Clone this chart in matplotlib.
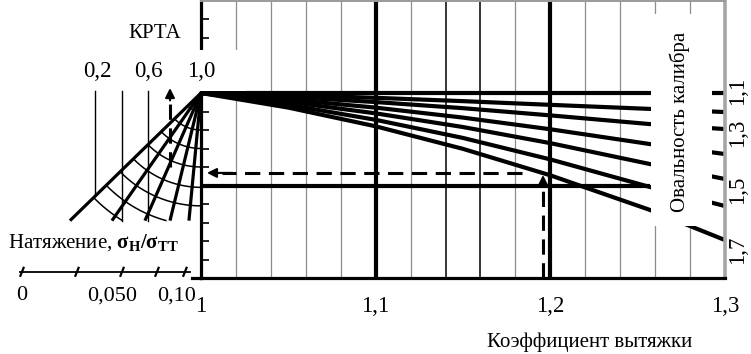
import numpy as np
import matplotlib
matplotlib.use('Agg')
import matplotlib.pyplot as plt
from matplotlib.patches import Rectangle

plt.rcParams['font.family'] = ['Liberation Serif', 'DejaVu Serif']
plt.rcParams['mathtext.fontset'] = 'custom'
plt.rcParams['mathtext.rm'] = 'Liberation Serif'
plt.rcParams['mathtext.bf'] = 'Liberation Serif:bold'
plt.rcParams['mathtext.it'] = 'Liberation Serif:italic'

# ---------------- data ----------------
# main panel: draw coefficient vs. level, one curve per caliber ovality
draw_x = [1.0, 1.05, 1.1, 1.15, 1.2, 1.257, 1.3]
curve_1 = [10, 10, 10, 10, 10, 10, 10]
curve_2 = [10, 9.89, 9.74, 9.56, 9.36, 9.14, 8.97]
curve_3 = [10, 9.79, 9.51, 9.18, 8.79, 8.32, 8.05]
curve_4 = [10, 9.65, 9.21, 8.67, 8.04, 7.24, 6.70]
curve_5 = [10, 9.52, 8.90, 8.16, 7.29, 6.16, 5.35]
curve_6 = [10, 9.36, 8.55, 7.57, 6.41, 4.92, 3.89]
curve_7 = [10, 9.21, 8.20, 6.98, 5.55, 3.68, 2.05]
curves = [curve_1, curve_2, curve_3, curve_4, curve_5, curve_6, curve_7]

level_line_y = 5.0
level_line_x = [1.0, 1.257]

grid_x = [1.02, 1.04, 1.06, 1.08, 1.10, 1.12, 1.14, 1.16, 1.18, 1.20,
          1.22, 1.24, 1.26, 1.28]
x_tick_vals = [1.0, 1.1, 1.2, 1.3]
x_tick_labels = ['1', '1,1', '1,2', '1,3']

ovality_labels = ['1,1', '1,3', '1,5', '1,7']
ovality_label_y = [10.1, 7.84, 4.76, 1.51]

# worked example (dashed path)
example_draw = 1.1958
example_level = 5.57
example_krta = 0.766

# left panel: KRTA scale and tension fan
krta_tick_vals = [0.2, 0.6, 1.0]
krta_tick_labels = ['0,2', '0,6', '1,0']
krta_lines_x = [0.2, 0.4, 0.6]
krta_lines_bottom = [4.42, 3.1, 3.1]
fan_apex = (1.0, 10.0)
fan_ray_end_x = [0.011, 0.328, 0.577, 0.766, 0.909]
fan_ray_end_y = 3.1
web_levels = [9.0, 8.0, 7.0, 6.0, 4.9, 3.9, 2.85, 1.9]

tension_tick_pos = [-0.351, 0.064, 0.404, 0.668, 0.879]
tension_label_pos = [-0.35, 0.33, 0.815]
tension_labels = ['0', '0,050', '0,10']

FS = 15
FSN = 16.5

# ---------------- figure ----------------
W, H = 751, 354
fig = plt.figure(figsize=(W / 100, H / 100), dpi=100)
L, R, B, T = 201, 725, 278, 0.5
axl = fig.add_axes([0, (H - B) / H, L / W, (B - T) / H])
ax = fig.add_axes([L / W, (H - B) / H, (R - L) / W, (B - T) / H])

ax.set_xlim(1.0, 1.3)
ax.set_ylim(0, 15)
axl.set_xlim(1 - L / 132.5, 1.0)
axl.set_ylim(0, 15)
axl.axis('off')
axl.patch.set_alpha(0)

# spines
for s, c, lw in [('left', 'black', 2.3), ('bottom', 'black', 2.3),
                 ('top', '#9a9a9a', 1.4), ('right', '#a6a6a6', 2.6)]:
    ax.spines[s].set_color(c)
    ax.spines[s].set_linewidth(lw)

ax.set_yticks(range(1, 15))
ax.tick_params(axis='y', direction='in', length=6, width=1.2, labelleft=False)
ax.set_xticks(x_tick_vals, x_tick_labels)
ax.tick_params(axis='x', length=0, pad=13, labelsize=FSN)

# gridlines
for g in grid_x:
    if abs(g - 1.1) < 1e-6 or abs(g - 1.2) < 1e-6:
        ax.axvline(g, color='black', lw=3.0, zorder=1.5)
    elif abs(g - 1.14) < 1e-6 or abs(g - 1.16) < 1e-6:
        ax.axvline(g, color='black', lw=1.1, zorder=1)
    else:
        ax.axvline(g, color='#8c8c8c', lw=0.9, zorder=1)

# curves
for c in curves:
    ax.plot(draw_x, c, color='black', lw=3.0, solid_capstyle='butt', zorder=2)
ax.plot(level_line_x, [level_line_y, level_line_y], color='black', lw=3.0,
        solid_capstyle='butt', zorder=2)

# white label box on the right
ax.add_patch(Rectangle((1.2578, 2.81), 1.2925 - 1.2578, 14.27 - 2.81,
                       fc='white', ec='none', zorder=3))
ax.text(1.2742, 8.43, 'Овальность калибра', rotation=90, ha='center',
        va='center', fontsize=FS, zorder=5)
for lbl, y in zip(ovality_labels, ovality_label_y):
    ax.text(1.3074, y, lbl, rotation=90, ha='center', va='center',
            fontsize=FSN, clip_on=False)

# white box behind "1,0"
ax.add_patch(Rectangle((0.99, 10.12), 0.036, 2.2, fc='white', ec='none',
                       zorder=3, clip_on=False))
ax.plot([0.99485, 1.0], [0, 0], color='black', lw=2.3, clip_on=False)

# dashed example path (main panel)
dash = (0, (5, 2.8))
ax.plot([example_draw, example_draw], [0, example_level - 0.45], color='black',
        lw=2.2, ls=dash, zorder=4)
ax.annotate('', xy=(example_draw, example_level),
            xytext=(example_draw, example_level - 0.5),
            arrowprops=dict(arrowstyle='-|>', color='black', lw=1.5,
                            mutation_scale=14, shrinkA=0, shrinkB=0), zorder=4)
hy = example_level + 0.11
ax.plot([example_draw - 0.012, 1.012], [hy, hy], color='black', lw=2.2, ls=dash,
        zorder=4)
ax.annotate('', xy=(1.0034, hy), xytext=(1.018, hy),
            arrowprops=dict(arrowstyle='-|>', color='black', lw=1.5,
                            mutation_scale=14, shrinkA=0, shrinkB=0), zorder=4)

ax.text(1.2227, -3.46, 'Коэффициент вытяжки', ha='center', va='center',
        fontsize=FS, clip_on=False)

# ---------------- left panel ----------------
fig.canvas.draw()
p = axl.transData.transform([(0, 0), (1, 1)])
sx, sy = p[1] - p[0]
ax0, ay0 = fan_apex

for xe in fan_ray_end_x:
    axl.plot([ax0, xe], [ay0, fan_ray_end_y], color='black', lw=2.3,
             solid_capstyle='butt')

theta1 = np.arctan2((fan_ray_end_y - ay0) * sy, (fan_ray_end_x[0] - ax0) * sx)
theta = np.linspace(theta1, -np.pi / 2, 200)
for lv in web_levels:
    Rpx = (ay0 - lv) * sy
    xs = ax0 + Rpx * np.cos(theta) / sx
    ys = ay0 + Rpx * np.sin(theta) / sy
    keep = ys >= fan_ray_end_y
    axl.plot(xs[keep], ys[keep], color='black', lw=1.1)

for xv, yb in zip(krta_lines_x, krta_lines_bottom):
    axl.plot([xv, xv], [10.1, yb], color='black', lw=1.0)

# KRTA tick labels: drawn on the main axes layer so the "1,0" sits above its white box
for v, lbl in zip(krta_tick_vals, krta_tick_labels):
    xv = v + (0.02 if v < 0.5 else 0)
    disp = axl.transData.transform((xv, 11.14))
    ax.text(disp[0], disp[1], lbl, ha='center', va='center', fontsize=FSN,
            transform=None, zorder=6, clip_on=False)
axl.text(0.653, 13.24, 'КРТА', ha='center', va='center', fontsize=FS)

axl.plot([example_krta, example_krta], [6.0, 9.8], color='black', lw=2.2, ls=dash)
axl.annotate('', xy=(example_krta, 10.27), xytext=(example_krta, 9.6),
             arrowprops=dict(arrowstyle='-|>', color='black', lw=1.5,
                             mutation_scale=14, shrinkA=0, shrinkB=0))

axl.text(0.185, 1.89, r'Натяжение, $\mathbf{\sigma_{Н}/\sigma_{ТТ}}$',
         ha='center', va='center', fontsize=FS)
axl.plot([-0.366, 0.917], [0.32, 0.32], color='black', lw=1.3)
for tp in tension_tick_pos:
    axl.plot([tp - 0.012, tp + 0.012], [0.12, 0.55], color='black', lw=1.6)
for tp, lbl in zip(tension_label_pos, tension_labels):
    axl.text(tp, -0.95, lbl, ha='center', va='center', fontsize=16, clip_on=False)

fig.savefig('out.png', dpi=100)
